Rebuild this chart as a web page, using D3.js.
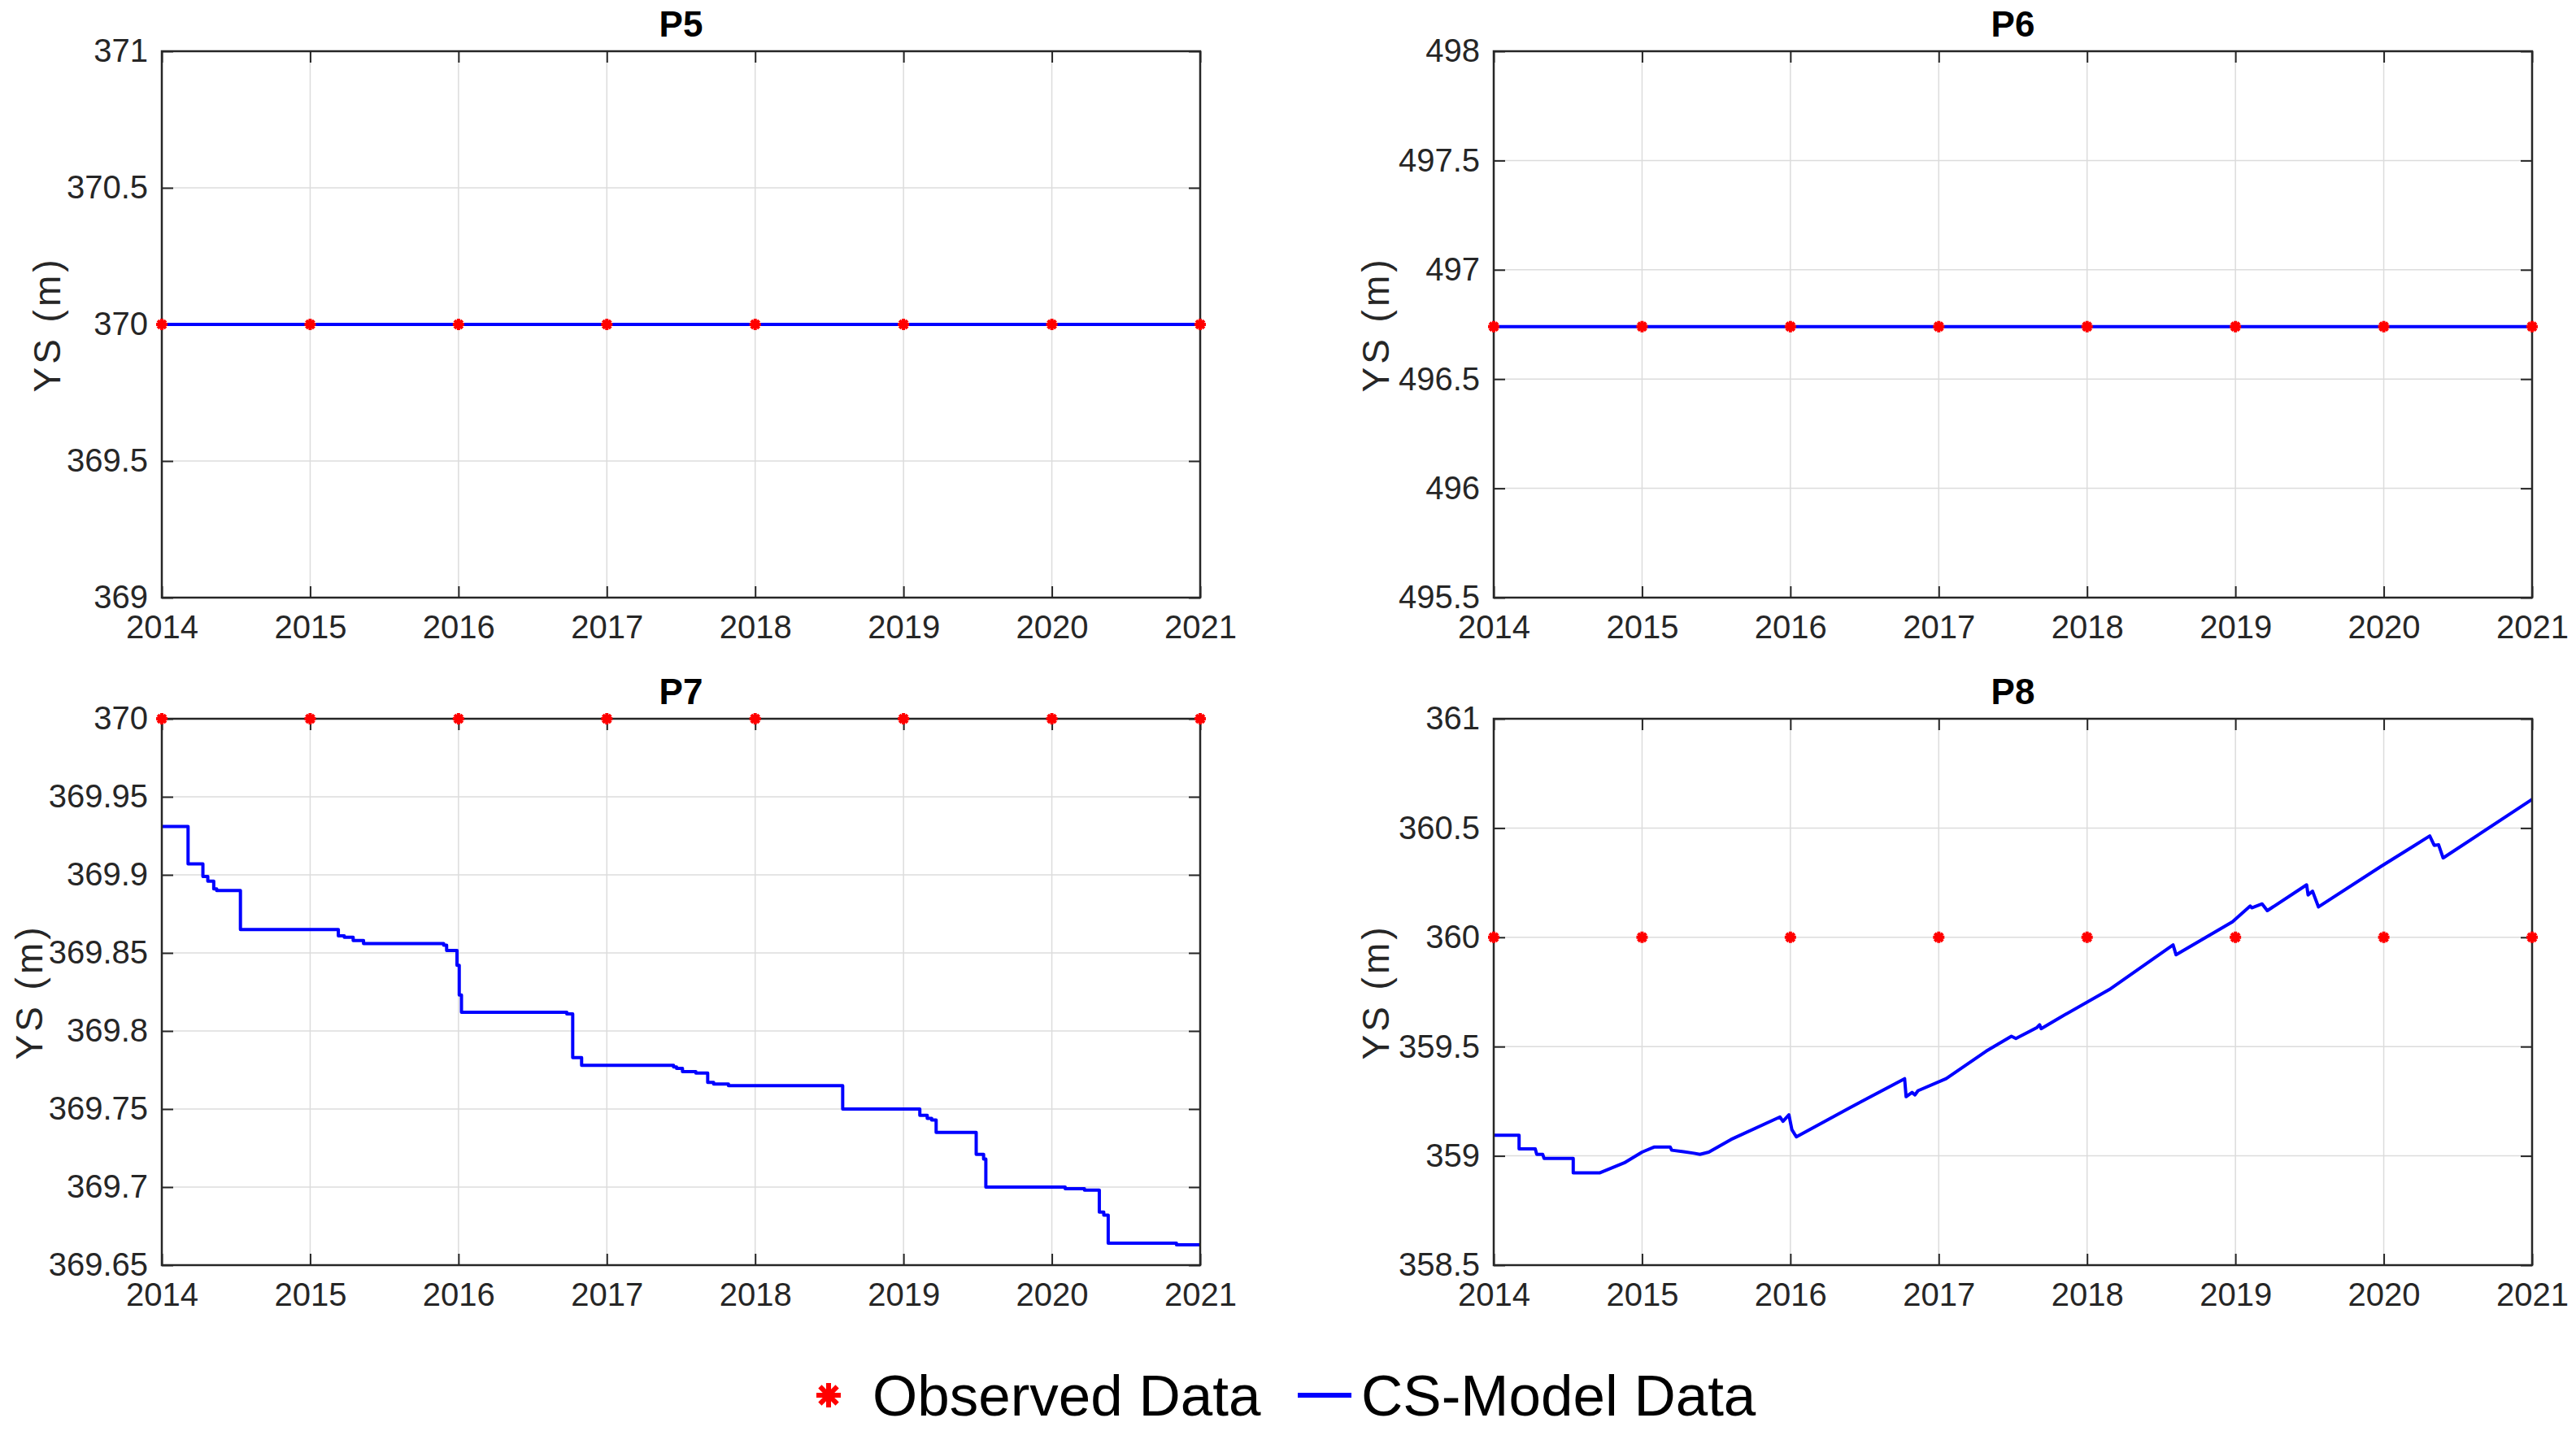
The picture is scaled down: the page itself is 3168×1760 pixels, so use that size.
<!DOCTYPE html>
<html lang="en">
<head>
<meta charset="UTF-8">
<title>YS panels</title>
<script src="https://d3js.org/d3.v7.min.js"></script>
<style>
  body { margin: 0; background: #fff; }
  svg { display: block; font-family: Arial, "Liberation Sans", Helvetica, sans-serif; }
</style>
</head>
<body>
<svg width="3168" height="1760"></svg>
<script>
// ---- data ----
const years = [2014, 2015, 2016, 2017, 2018, 2019, 2020, 2021];

const p5Observed = [370, 370, 370, 370, 370, 370, 370, 370];
const p6Observed = [496.74, 496.74, 496.74, 496.74, 496.74, 496.74, 496.74, 496.74];
const p7Observed = [370, 370, 370, 370, 370, 370, 370, 370];
const p8Observed = [360, 360, 360, 360, 360, 360, 360, 360];

const p5ModelT = [2014, 2021];
const p5ModelY = [370, 370];
const p6ModelT = [2014, 2021];
const p6ModelY = [496.74, 496.74];

// P7 model: step changes (time the value starts)
const p7ModelT = [2014.000, 2014.177, 2014.277, 2014.31, 2014.35, 2014.37, 2014.53, 2015.19, 2015.23, 2015.29,
  2015.36, 2015.90, 2015.92, 2015.99, 2016.005, 2016.02, 2016.73, 2016.77, 2016.83, 2017.45,
  2017.47, 2017.51, 2017.60, 2017.68, 2017.72, 2017.82, 2018.59, 2019.11, 2019.16, 2019.19,
  2019.22, 2019.49, 2019.54, 2019.555, 2020.09, 2020.22, 2020.32, 2020.35, 2020.38, 2020.84, 2021.0];
const p7ModelY = [369.931, 369.907, 369.899, 369.896, 369.891, 369.890, 369.865, 369.861, 369.860, 369.858,
  369.856, 369.855, 369.8515, 369.842, 369.823, 369.812, 369.811, 369.783, 369.778, 369.777,
  369.776, 369.774, 369.773, 369.767, 369.766, 369.765, 369.750, 369.746, 369.744, 369.743,
  369.735, 369.721, 369.718, 369.700, 369.699, 369.698, 369.684, 369.682, 369.664, 369.663, 369.663];

// P8 model: traced polyline
const p8ModelT = [2014.0, 2014.171, 2014.171, 2014.28, 2014.29, 2014.33, 2014.34, 2014.536, 2014.536, 2014.713,
  2014.88, 2015.0, 2015.08, 2015.19, 2015.2, 2015.28, 2015.35, 2015.39, 2015.45, 2015.6,
  2015.93, 2015.95, 2015.99, 2016.01, 2016.04, 2016.4, 2016.77, 2016.78, 2016.82, 2016.84,
  2016.86, 2017.05, 2017.32, 2017.49, 2017.52, 2017.66, 2017.68, 2017.69, 2017.82, 2018.15,
  2018.58, 2018.60, 2018.98, 2019.10, 2019.11, 2019.18, 2019.215, 2019.48, 2019.49, 2019.52,
  2019.56, 2019.98, 2020.20, 2020.31, 2020.34, 2020.37, 2020.40, 2021.0];
const p8ModelY = [359.094, 359.094, 359.032, 359.032, 359.007, 359.007, 358.988, 358.988, 358.922, 358.922,
  358.968, 359.017, 359.04, 359.04, 359.026, 359.019, 359.012, 359.007, 359.017, 359.075,
  359.178, 359.158, 359.188, 359.12, 359.087, 359.22, 359.353, 359.271, 359.29, 359.279,
  359.298, 359.353, 359.479, 359.547, 359.537, 359.586, 359.600, 359.582, 359.634, 359.761,
  359.965, 359.92, 360.071, 360.143, 360.135, 360.153, 360.122, 360.24, 360.194, 360.211,
  360.139, 360.324, 360.417, 360.464, 360.421, 360.423, 360.363, 360.631];

const p5Ticks = [369, 369.5, 370, 370.5, 371];
const p6Ticks = [495.5, 496, 496.5, 497, 497.5, 498];
const p7Ticks = [369.65, 369.7, 369.75, 369.8, 369.85, 369.9, 369.95, 370];
const p8Ticks = [358.5, 359, 359.5, 360, 360.5, 361];

const panels = [
  { title: "P5", x0: 199, y0: 63, obs: p5Observed, mt: p5ModelT, my: p5ModelY, ticks: p5Ticks, step: false, labX: -142 },
  { title: "P6", x0: 1837, y0: 63, obs: p6Observed, mt: p6ModelT, my: p6ModelY, ticks: p6Ticks, step: false, labX: -146 },
  { title: "P7", x0: 199, y0: 884, obs: p7Observed, mt: p7ModelT, my: p7ModelY, ticks: p7Ticks, step: true, labX: -164 },
  { title: "P8", x0: 1837, y0: 884, obs: p8Observed, mt: p8ModelT, my: p8ModelY, ticks: p8Ticks, step: false, labX: -146 }
];

const W = 1277, H = 672;
const axisColor = "#262626";

const svg = d3.select("svg");

// asterisk marker path (4 strokes)
function asterisk(r) {
  const d = r * Math.SQRT1_2;
  return `M${-r},0L${r},0M0,${-r}L0,${r}M${-d},${-d}L${d},${d}M${-d},${d}L${d},${-d}`;
}

panels.forEach(p => {
  const g = svg.append("g").attr("transform", `translate(${p.x0},${p.y0})`);
  const x = d3.scaleLinear().domain([2014, 2021]).range([0, W]);
  const y = d3.scaleLinear().domain(d3.extent(p.ticks)).range([H, 0]);

  // grid
  g.append("g").selectAll("line").data(years).enter().append("line")
    .attr("x1", d => x(d)).attr("x2", d => x(d)).attr("y1", 0).attr("y2", H)
    .attr("stroke", "#dcdcdc").attr("stroke-width", 1.5);
  g.append("g").selectAll("line").data(p.ticks).enter().append("line")
    .attr("x1", 0).attr("x2", W).attr("y1", d => y(d)).attr("y2", d => y(d))
    .attr("stroke", "#dcdcdc").attr("stroke-width", 1.5);

  // axes with inward ticks
  const fmt = d3.format("~f");
  g.append("g")
    .call(d3.axisLeft(y).tickValues(p.ticks).tickSize(-14).tickSizeOuter(0).tickPadding(17).tickFormat(fmt));
  g.append("g").attr("transform", `translate(${W},0)`)
    .call(d3.axisRight(y).tickValues(p.ticks).tickSize(-14).tickSizeOuter(0).tickFormat(""));
  g.append("g").attr("transform", `translate(0,${H})`)
    .call(d3.axisBottom(x).tickValues(years).tickSize(-14).tickSizeOuter(0).tickPadding(22).tickFormat(d3.format("d")));
  g.append("g")
    .call(d3.axisTop(x).tickValues(years).tickSize(-14).tickSizeOuter(0).tickFormat(""));

  g.selectAll(".domain").remove();
  g.selectAll(".tick line").attr("stroke", axisColor).attr("stroke-width", 2);
  g.selectAll(".tick text").attr("fill", axisColor).attr("font-size", 40)
    .attr("font-family", "Arial, 'Liberation Sans', sans-serif");

  // model line
  const pts = p.mt.map((t, i) => [t, p.my[i]]);
  g.append("path").datum(pts)
    .attr("fill", "none").attr("stroke", "#0000ff").attr("stroke-width", 4)
    .attr("stroke-linejoin", "round")
    .attr("d", d3.line().x(d => x(d[0])).y(d => y(d[1])).curve(p.step ? d3.curveStepAfter : d3.curveLinear));

  // box
  g.append("rect").attr("x", 0).attr("y", 0).attr("width", W).attr("height", H)
    .attr("fill", "none").attr("stroke", axisColor).attr("stroke-width", 2.5);

  // observed markers
  g.append("g").selectAll("path").data(years.map((t, i) => [t, p.obs[i]])).enter().append("path")
    .attr("transform", d => `translate(${x(d[0])},${y(d[1])})`)
    .attr("d", asterisk(7))
    .attr("stroke", "#ff0000").attr("stroke-width", 4).attr("fill", "none");

  // title
  g.append("text").attr("x", W / 2).attr("y", -18).attr("text-anchor", "middle")
    .attr("font-size", 44).attr("font-weight", "bold").attr("fill", "#000").text(p.title);

  // y label
  g.append("text").attr("transform", `translate(${p.labX},${H / 2}) rotate(-90)`)
    .attr("text-anchor", "middle").attr("dy", "0.36em").attr("font-size", 46)
    .attr("letter-spacing", 4).attr("fill", axisColor)
    .text("YS (m)");
});

// legend
const lg = svg.append("g").attr("transform", "translate(0,1716)");
lg.append("path").attr("transform", "translate(1019,0)").attr("d", asterisk(15))
  .attr("stroke", "#ff0000").attr("stroke-width", 6).attr("fill", "none");
lg.append("text").attr("x", 1073).attr("y", 25).attr("font-size", 71).attr("fill", "#000").text("Observed Data");
lg.append("line").attr("x1", 1596).attr("x2", 1662).attr("y1", 0).attr("y2", 0)
  .attr("stroke", "#0000ff").attr("stroke-width", 6);
lg.append("text").attr("x", 1674).attr("y", 25).attr("font-size", 71).attr("fill", "#000").text("CS-Model Data");
</script>
</body>
</html>
